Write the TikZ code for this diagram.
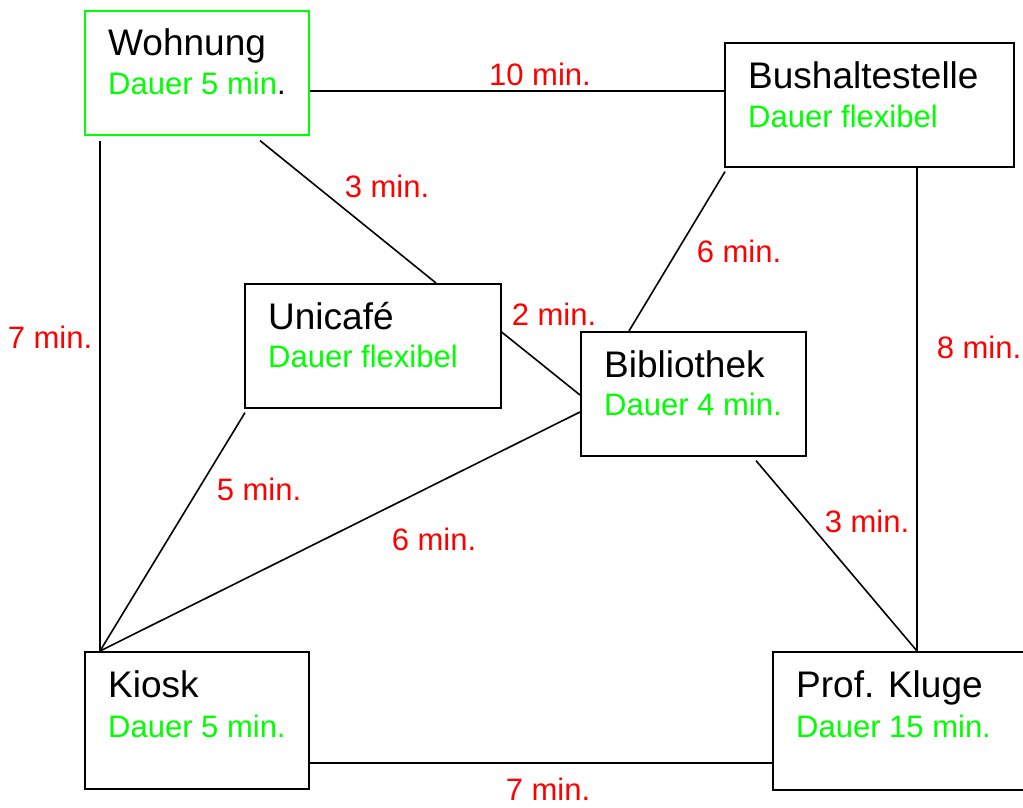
\documentclass[tikz,border=0pt]{standalone}
\usepackage{fontspec}
\setmainfont{Liberation Sans}
\usetikzlibrary{calc}
\definecolor{pgreen}{RGB}{0,255,0}
\definecolor{pred}{RGB}{255,0,0}
\begin{document}
\begin{tikzpicture}[x=1pt,y=-1pt,
  box/.style={draw=black,line width=1.6pt,inner sep=0pt,anchor=north west},
  gbox/.style={box,draw=pgreen},
  title/.style={anchor=base west,inner sep=0pt,font=\fontsize{37}{41}\selectfont},
  dur/.style={anchor=base west,inner sep=0pt,text=pgreen,font=\fontsize{31}{35}\selectfont},
  cost/.style={anchor=base,inner sep=0pt,text=pred,font=\fontsize{31}{35}\selectfont},
  conn/.style={draw=black,line width=1.6pt}]
\useasboundingbox (0,0) rectangle (1023,807);

% boxes
\node[gbox,minimum width=224pt,minimum height=124pt] (w) at (84,10) {};
\node[box,minimum width=289pt,minimum height=124pt] (b) at (724,42) {};
\node[box,minimum width=256pt,minimum height=124pt] (u) at (244,283) {};
\node[box,minimum width=225pt,minimum height=124pt] (bib) at (580,331) {};
\node[box,minimum width=224pt,minimum height=137pt] (k) at (84,651) {};
\node[box,minimum width=270pt,minimum height=138pt] (p) at (772,651) {};

% texts
\node[title] (wt) at (108,55) {Wohnung};
\node[dur,text=black] (wd) at (108,94) {\textcolor{pgreen}{Dauer 5 min}.};
\node[title] (bt) at (748,88) {Bushaltestelle};
\node[dur] (bd) at (748,127) {Dauer flexibel};
\node[title] (ut) at (268,329) {Unicafé};
\node[dur] (ud) at (268,367) {Dauer flexibel};
\node[title] (bibt) at (604,377) {Bibliothek};
\node[dur] (bibd) at (604,415) {Dauer 4 min.};
\node[title] (kt) at (108,697) {Kiosk};
\node[dur] (kd) at (108,737) {Dauer 5 min.};
\node[title] (pt) at (796,697) {Prof. Kluge};
\node[dur] (pd) at (796,737) {Dauer 15 min.};

% connectors
\draw[conn] ($(w.north east)+(0,81)$) -- ($(b.north west)+(0,49)$);
\draw[conn] ($(w.south west)+(176,5)$) -- ($(u.north west)+(192,0)$);
\draw[conn] ($(w.south west)+(16,5)$) -- ($(k.north west)+(16,0)$);
\draw[conn] ($(b.south west)+(1,4)$) -- ($(bib.north west)+(49,0)$);
\draw[conn] ($(b.south west)+(193,0)$) -- ($(p.north west)+(145,0)$);
\draw[conn] ($(u.north east)+(0,49)$) -- ($(bib.north west)+(0,64)$);
\draw[conn] ($(u.south west)+(1,4)$) -- ($(k.north west)+(16,0)$);
\draw[conn] ($(bib.north west)+(0,81)$) -- ($(k.north west)+(16,0)$);
\draw[conn] ($(bib.south west)+(176,4)$) -- ($(p.north west)+(145,0)$);
\draw[conn] ($(k.north east)+(0,112)$) -- ($(p.north west)+(0,112)$);

% costs
\node[cost] (c1) at (540,85) {10 min.};
\node[cost] (c2) at (387,197) {3 min.};
\node[cost] (c3) at (50,348) {7 min.};
\node[cost] (c4) at (739,262) {6 min.};
\node[cost] (c5) at (979,358) {8 min.};
\node[cost] (c6) at (554,325) {2 min.};
\node[cost] (c7) at (259,500) {5 min.};
\node[cost] (c8) at (434,550) {6 min.};
\node[cost] (c9) at (867,532) {3 min.};
\node[cost] (c10) at (548,800) {7 min.};
\end{tikzpicture}
\end{document}
